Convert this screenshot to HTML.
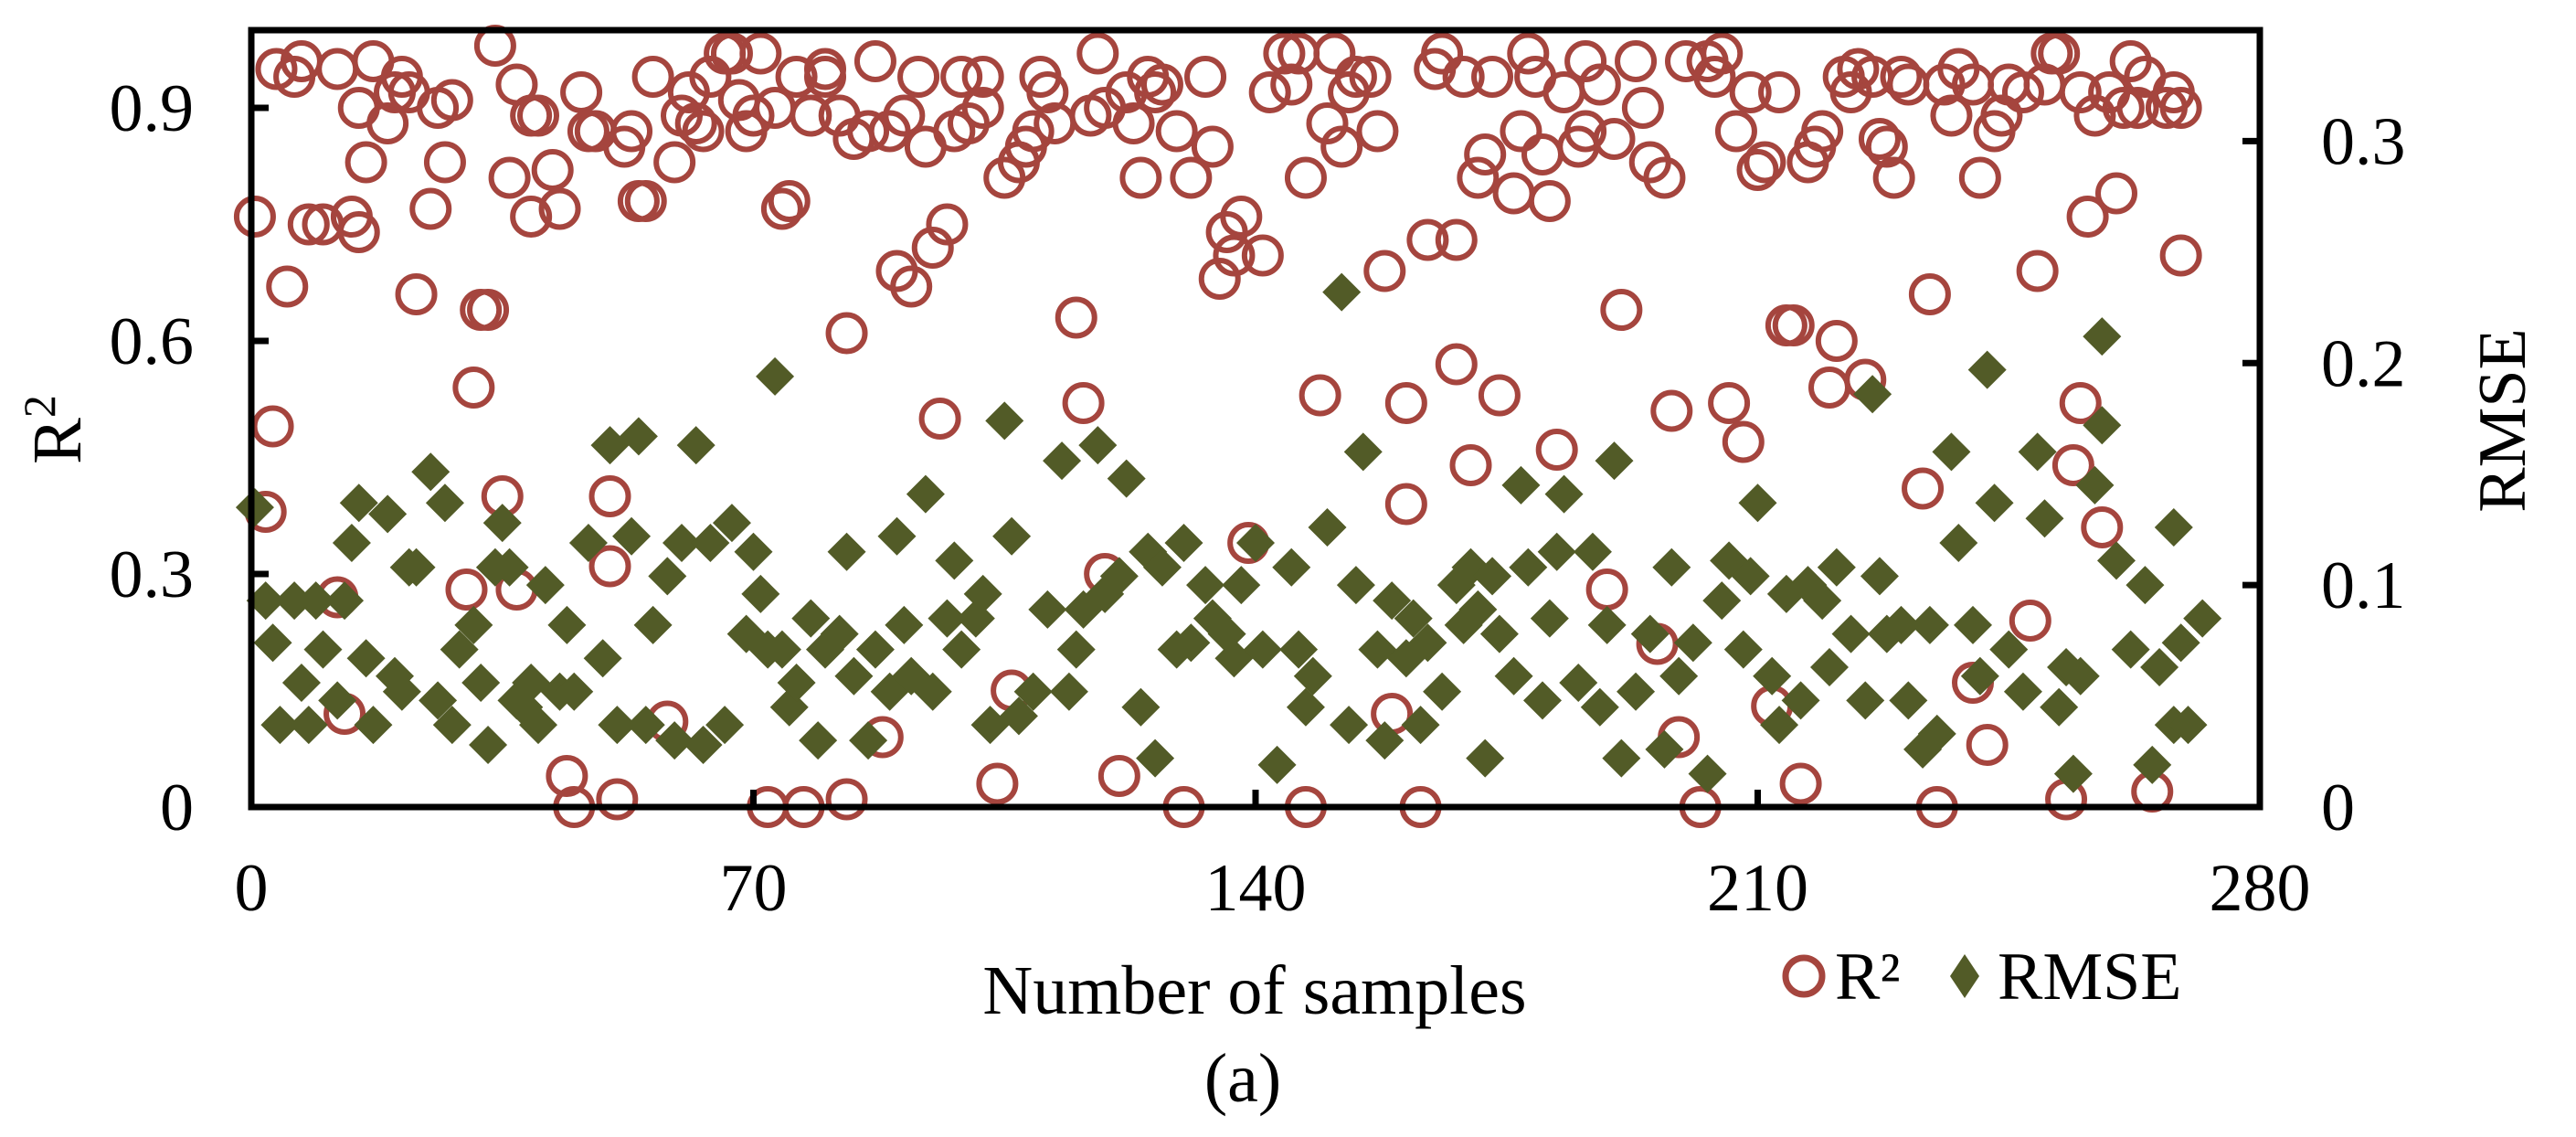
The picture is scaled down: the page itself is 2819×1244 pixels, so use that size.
<!DOCTYPE html>
<html><head><meta charset="utf-8"><style>
html,body{margin:0;padding:0;background:#fff;}
svg{display:block;font-family:"Liberation Serif","Times New Roman",serif;}
</style></head><body>
<svg id="chart" width="2819" height="1244" viewBox="0 0 2819 1244" xmlns="http://www.w3.org/2000/svg">
<rect x="0" y="0" width="2819" height="1244" fill="#fff"/>
<g id="marks"></g>
<g id="axes"></g>
<text x="1373" y="1109" font-size="76" text-anchor="middle">Number of samples</text>
<text x="1360" y="1205" font-size="76" text-anchor="middle">(a)</text>
<text transform="translate(88,470) rotate(-90)" font-size="76" text-anchor="middle">R<tspan dy="-28" font-size="50">2</tspan></text>
<text transform="translate(2763,460) rotate(-90)" font-size="74" text-anchor="middle">RMSE</text>
<g>
<circle cx="1974" cy="1068" r="20" fill="none" stroke="#A5453E" stroke-width="7"/>
<text x="2008" y="1093" font-size="74">R²</text>
<polygon points="2150,1044 2166,1068 2150,1092 2134,1068" fill="#525B27"/>
<text x="2186" y="1093" font-size="74">RMSE</text>
</g>
</svg>
<script>
const r2Samples=[0.5,2,3,3.5,5,6,7,8,10,12,12,13,14,15,15,16,17,19,20,21,22,23,25,26,27,28,30,31,32,33,34,35,36,37,37,39,39,40,42,43,44,45,46,47,48,50,50,51,52,53,54,55,56,58,59,60,61,62,63,64,66,67,68,69,70,71,72,73,74,75,76,77,78,80,80,82,83,83,84,86,87,88,89,90,91,92,93,94,95,96,97,98,99,100,102,102,104,105,106,107,108,109,110,111,112,115,116,117,118,119,119,121,122,123,124,125,126,127,129,130,131,133,134,135,136,137,138,139,141,142,144,145,146,147,147,149,150,151,152,153,154,156,157,158,159,161,161,163,164,165,166,168,168,169,170,171,172,173,174,176,177,178,179,180,181,182,183,185,186,186,188,189,190,191,193,194,195,196,197,198,199,200,202,203,204,205,206,207,208,209,210,211,212,213,214,215,216,217,218,219,220,221,222,223,224,225,226,227,228,229,230,231,233,234,235,236,237,238,240,240,241,242,243,244,245,247,248,249,250,251,252,253,254,255,255,256,257,258,259,260,261,262,263,264,265,267,268,269,269];
const r2Values=[0.76,0.38,0.49,0.95,0.67,0.94,0.96,0.75,0.75,0.95,0.27,0.12,0.76,0.74,0.90,0.83,0.96,0.88,0.92,0.94,0.92,0.66,0.77,0.90,0.83,0.91,0.28,0.54,0.64,0.64,0.98,0.40,0.81,0.28,0.93,0.76,0.89,0.89,0.82,0.77,0.04,0.00,0.92,0.87,0.87,0.40,0.31,0.01,0.85,0.87,0.78,0.78,0.94,0.11,0.83,0.89,0.92,0.88,0.87,0.94,0.97,0.97,0.91,0.87,0.89,0.97,0.00,0.90,0.77,0.78,0.94,0.00,0.89,0.95,0.94,0.89,0.01,0.61,0.86,0.87,0.96,0.09,0.87,0.69,0.89,0.67,0.94,0.85,0.72,0.50,0.75,0.87,0.94,0.88,0.94,0.90,0.03,0.81,0.15,0.83,0.85,0.87,0.94,0.92,0.88,0.63,0.52,0.89,0.97,0.90,0.30,0.04,0.92,0.88,0.81,0.94,0.92,0.93,0.87,0.00,0.81,0.94,0.85,0.68,0.74,0.71,0.76,0.34,0.71,0.92,0.97,0.93,0.97,0.81,0.00,0.53,0.88,0.97,0.85,0.92,0.94,0.94,0.87,0.69,0.12,0.39,0.52,0.00,0.73,0.95,0.97,0.73,0.57,0.94,0.44,0.81,0.84,0.94,0.53,0.79,0.87,0.97,0.94,0.84,0.78,0.46,0.92,0.85,0.87,0.96,0.93,0.28,0.86,0.64,0.96,0.90,0.83,0.21,0.81,0.51,0.09,0.96,0.00,0.96,0.94,0.97,0.52,0.87,0.47,0.92,0.82,0.83,0.13,0.92,0.62,0.62,0.03,0.83,0.85,0.87,0.54,0.60,0.94,0.92,0.95,0.55,0.94,0.86,0.85,0.81,0.94,0.93,0.41,0.66,0.00,0.93,0.89,0.95,0.93,0.16,0.81,0.08,0.87,0.89,0.93,0.92,0.24,0.69,0.93,0.97,0.97,0.01,0.44,0.52,0.92,0.76,0.89,0.36,0.92,0.79,0.90,0.96,0.90,0.94,0.02,0.90,0.92,0.71,0.90];
const rmseSamples=[0.5,2,3,4,6,7,8,9,10,12,13,14,15,16,17,19,20,21,22,23,25,26,27,28,29,31,32,33,34,35,36,37,38,39,40,41,43,44,45,47,49,50,51,53,54,55,56,58,59,60,62,63,64,66,67,69,70,71,72,73,74,75,76,78,79,80,82,83,84,86,87,89,90,91,92,94,95,97,98,99,101,102,103,105,106,107,109,111,113,114,115,116,118,119,121,122,124,125,126,127,129,130,131,133,134,136,137,138,140,141,143,145,146,147,148,150,152,153,154,155,157,158,159,161,162,163,164,166,168,169,170,171,172,173,174,176,177,178,180,181,182,183,185,187,188,189,190,191,193,195,197,198,199,201,203,205,206,208,209,210,212,213,214,216,217,219,220,221,223,225,226,227,228,230,231,233,234,235,237,238,240,241,242,243,245,247,249,250,252,253,254,255,257,258,258,260,262,264,265,266,268,268,269,270,272];
const rmseValues=[0.135,0.093,0.074,0.037,0.093,0.056,0.037,0.093,0.071,0.048,0.093,0.119,0.137,0.067,0.037,0.132,0.059,0.052,0.108,0.108,0.151,0.048,0.137,0.037,0.071,0.082,0.056,0.028,0.108,0.128,0.108,0.048,0.045,0.056,0.037,0.100,0.052,0.082,0.052,0.119,0.067,0.163,0.037,0.122,0.167,0.037,0.082,0.104,0.030,0.119,0.163,0.028,0.119,0.037,0.128,0.078,0.115,0.096,0.071,0.194,0.071,0.045,0.056,0.085,0.030,0.071,0.078,0.115,0.059,0.030,0.071,0.052,0.122,0.082,0.059,0.141,0.052,0.085,0.111,0.071,0.085,0.096,0.037,0.174,0.122,0.041,0.052,0.089,0.156,0.052,0.071,0.089,0.163,0.096,0.104,0.148,0.045,0.115,0.022,0.108,0.071,0.119,0.074,0.100,0.085,0.078,0.067,0.100,0.119,0.071,0.019,0.108,0.071,0.045,0.059,0.126,0.232,0.037,0.100,0.160,0.071,0.030,0.093,0.067,0.085,0.037,0.074,0.052,0.100,0.082,0.108,0.089,0.022,0.104,0.078,0.059,0.145,0.108,0.048,0.085,0.115,0.141,0.056,0.115,0.045,0.082,0.156,0.022,0.052,0.078,0.026,0.108,0.059,0.074,0.015,0.093,0.111,0.071,0.104,0.137,0.059,0.037,0.096,0.048,0.100,0.093,0.063,0.108,0.078,0.048,0.186,0.104,0.078,0.082,0.048,0.026,0.082,0.033,0.160,0.119,0.082,0.059,0.197,0.137,0.071,0.052,0.160,0.130,0.045,0.063,0.015,0.059,0.145,0.172,0.212,0.111,0.071,0.100,0.019,0.063,0.037,0.126,0.074,0.037,0.085];
const xTicks=[0,70,140,210,280];
const yLeftTicks=[0,0.3,0.6,0.9];
const yLeftLabels=["0","0.3","0.6","0.9"];
const yRightTicks=[0,0.1,0.2,0.3];
const yRightLabels=["0","0.1","0.2","0.3"];

const NS="http://www.w3.org/2000/svg";
const L=275,R=2473,T=33,B=883;
const xS=v=>L+(v/280)*(R-L);
const yL=v=>B-(v/1.0)*(B-T);
const yR=v=>B-(v/0.35)*(B-T);
function mk(tag,attrs,parent){const e=document.createElementNS(NS,tag);for(const k in attrs)e.setAttribute(k,attrs[k]);parent.appendChild(e);return e;}
const marks=document.getElementById('marks');
const axes=document.getElementById('axes');
r2Samples.forEach((s,i)=>{
  const c=mk('circle',{cx:xS(s),cy:yL(r2Values[i]),r:20,fill:'none',stroke:'#A5453E','stroke-width':6},marks);
  
  
});
rmseSamples.forEach((s,i)=>{
  const x=xS(s),y=yR(rmseValues[i]);
  const p=mk('polygon',{points:`${x},${y-21} ${x+21},${y} ${x},${y+21} ${x-21},${y}`,fill:'#525B27'},marks);
  
  
});
const frame=mk('rect',{x:L,y:T,width:R-L,height:B-T,fill:'none',stroke:'#000','stroke-width':7},axes);


xTicks.forEach(v=>{
  const x=xS(v);
  const t=mk('line',{x1:x,y1:B,x2:x,y2:B-19,stroke:'#000','stroke-width':7},axes);
  
  
  const lb=mk('text',{x:x,y:996,'font-size':74,'text-anchor':'middle'},axes);
  lb.textContent=String(v);
  
  
});
yLeftTicks.forEach((v,i)=>{
  const y=yL(v);
  const t=mk('line',{x1:L,y1:y,x2:L+19,y2:y,stroke:'#000','stroke-width':7},axes);
  
  
  const lb=mk('text',{x:212,y:y+25,'font-size':74,'text-anchor':'end'},axes);
  lb.textContent=yLeftLabels[i];
  
  
});
yRightTicks.forEach((v,i)=>{
  const y=yR(v);
  const t=mk('line',{x1:R,y1:y,x2:R-19,y2:y,stroke:'#000','stroke-width':7},axes);
  
  
  const lb=mk('text',{x:2540,y:y+25,'font-size':74,'text-anchor':'start'},axes);
  lb.textContent=yRightLabels[i];
  
  
});
</script>
</body></html>
